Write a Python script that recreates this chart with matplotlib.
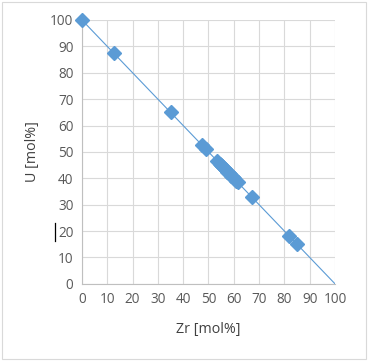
import matplotlib.pyplot as plt
from matplotlib.lines import Line2D
from matplotlib.patches import Rectangle

# Measured compositions
zr = [0, 12.5, 35, 47.5, 49, 53.5, 54.5, 55, 55.5, 56, 56.5, 57, 57.5, 58, 58.5,
      59, 59.5, 60, 61, 61.5, 67, 82, 85]
u = [100, 87.5, 65, 52.5, 51, 46.5, 45.5, 45, 44.5, 44, 43.5, 43, 42.5, 42, 41.5,
     41, 40.5, 40, 39, 38.5, 33, 18, 15]

# Ideal U + Zr = 100 line
line_zr = [0, 100]
line_u = [100, 0]

blue = '#5B9BD5'
plt.rcParams['font.family'] = ['Open Sans', 'DejaVu Sans']

fig = plt.figure(figsize=(3.69, 3.63), dpi=100)
ax = fig.add_axes([0.222, 0.218, 0.686, 0.727])

ax.plot(line_zr, line_u, color=blue, lw=0.8, zorder=2)
ax.plot(zr, u, linestyle='none', marker='D', markersize=7.2, color=blue,
        zorder=3, clip_on=False)

ax.set_xlim(0, 100)
ax.set_ylim(0, 100)
ax.set_xticks(range(0, 101, 10))
ax.set_yticks(range(0, 101, 10))
ax.grid(True, color='#D9D9D9', lw=0.8)
ax.set_axisbelow(True)
for s in ['top', 'right']:
    ax.spines[s].set_visible(False)
for s in ['left', 'bottom']:
    ax.spines[s].set_color('#BFBFBF')
    ax.spines[s].set_linewidth(0.8)
ax.tick_params(length=0, colors='#595959', labelsize=9.8, pad=6)
ax.set_xlabel('Zr [mol%]', fontsize=10.3, color='#404040', labelpad=11)
ax.set_ylabel('U [mol%]', fontsize=10.3, color='#404040', labelpad=7)

# frame around the chart and stray cursor mark
fig.add_artist(Rectangle((0.006, 0.012), 0.986, 0.982, transform=fig.transFigure,
                         fill=False, edgecolor='#D9D9D9', lw=0.8))
fig.add_artist(Line2D([55 / 369, 55 / 369], [1 - 223 / 363, 1 - 241 / 363],
                      transform=fig.transFigure, color='black', lw=0.9))

fig.savefig('out.png', dpi=100)
